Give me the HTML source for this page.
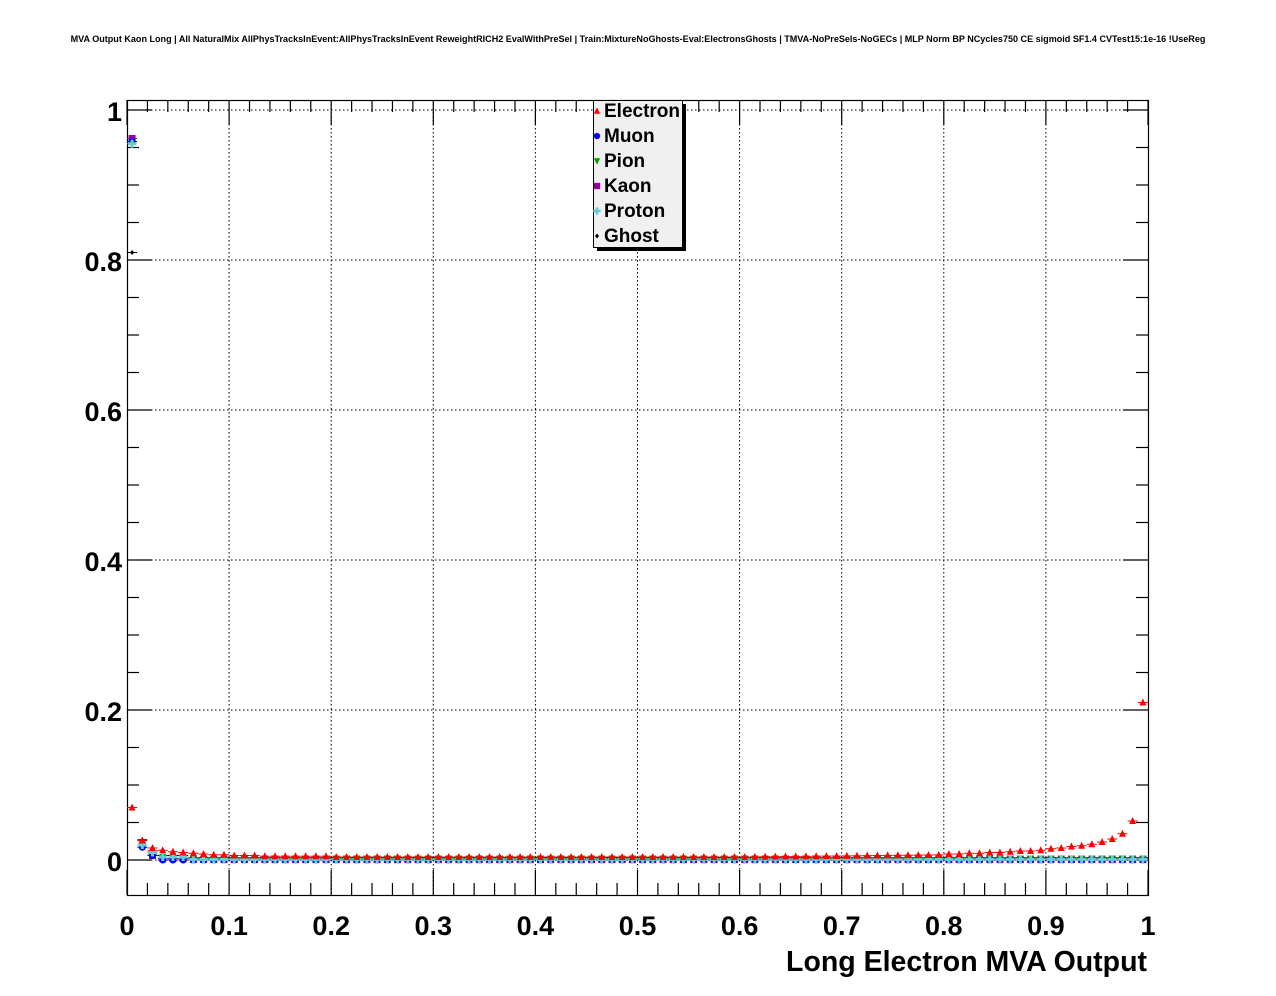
<!DOCTYPE html>
<html><head><meta charset="utf-8"><style>
html,body{margin:0;padding:0;background:#fff}
svg{display:block;font-family:"Liberation Sans",Arial,sans-serif;font-weight:bold}
</style></head><body>
<svg id="s" width="1276" height="996" viewBox="0 0 1276 996">
<rect width="1276" height="996" fill="#fff"/>
<text x="638" y="42" font-size="9.05" text-anchor="middle">MVA Output Kaon Long | All NaturalMix AllPhysTracksInEvent:AllPhysTracksInEvent ReweightRICH2 EvalWithPreSel | Train:MixtureNoGhosts-Eval:ElectronsGhosts | TMVA-NoPreSels-NoGECs | MLP Norm BP NCycles750 CE sigmoid SF1.4 CVTest15:1e-16 !UseReg</text>
<g id="grid" stroke="#000" stroke-width="1" stroke-dasharray="1.5,2.5" fill="none"></g>
<g id="ticks" stroke="#000" stroke-width="1.2" fill="none"></g>
<rect x="127.5" y="100.5" width="1021" height="795" fill="none" stroke="#000" stroke-width="1.2"/>
<g font-size="27" text-anchor="end">
<text x="122" y="121">1</text>
<text x="122" y="271">0.8</text>
<text x="122" y="421">0.6</text>
<text x="122" y="571">0.4</text>
<text x="122" y="721">0.2</text>
<text x="122" y="871">0</text>
</g>
<g font-size="27" text-anchor="middle" id="xl"></g>
<text x="1147" y="971" font-size="28.5" text-anchor="end">Long Electron MVA Output</text>
<g id="pts"></g>
<rect x="597" y="104" width="89" height="147" fill="#000"/>
<rect x="593.5" y="100.5" width="89" height="147" fill="#f0f0f0" stroke="#000"/>
<g font-size="19">
<text x="604" y="117">Electron</text>
<text x="604" y="142">Muon</text>
<text x="604" y="167">Pion</text>
<text x="604" y="192">Kaon</text>
<text x="604" y="217">Proton</text>
<text x="604" y="242">Ghost</text>
</g>
<g id="leg"></g>
</svg>
<script>
const NS="http://www.w3.org/2000/svg";
function el(p,t,a){const e=document.createElementNS(NS,t);for(const k in a)e.setAttribute(k,a[k]);p.appendChild(e);return e;}
const X0=127,X1=1148,Y0=860,Y1=110;
const X=v=>X0+(X1-X0)*v, Y=v=>Y0-(Y0-Y1)*v;
const g=document.getElementById('grid'),t=document.getElementById('ticks'),xl=document.getElementById('xl');
for(let i=1;i<10;i++){el(g,'line',{x1:X(i/10),x2:X(i/10),y1:100,y2:895});}
for(let i=0;i<=5;i++){el(g,'line',{x1:127,x2:1148,y1:Y(i*0.2),y2:Y(i*0.2)});}
for(let i=0;i<=50;i++){const x=X(i/50),L=i%5==0?25:12;el(t,'line',{x1:x,x2:x,y1:895,y2:895-L});el(t,'line',{x1:x,x2:x,y1:100,y2:100+L});}
for(let i=0;i<=20;i++){const v=i*0.05,y=Y(v);const L=i%4==0?25:12;el(t,'line',{x1:127,x2:127+L,y1:y,y2:y});el(t,'line',{x1:1148,x2:1148-L,y1:y,y2:y});}
const lab=['0','0.1','0.2','0.3','0.4','0.5','0.6','0.7','0.8','0.9','1'];
lab.forEach((s,i)=>{const e=el(xl,'text',{x:X(i/10),y:935});e.textContent=s;});
const p=document.getElementById('pts');
function mk(type,col,x,y,s,par){s=s||1;par=par||p;
 if(type=='tri')el(par,'polygon',{points:`${x},${y-4*s} ${x-3.5*s},${y+3*s} ${x+3.5*s},${y+3*s}`,fill:col});
 else if(type=='circ')el(par,'circle',{cx:x,cy:y,r:3.5*s,fill:col});
 else if(type=='tdown')el(par,'polygon',{points:`${x},${y+4*s} ${x-3.5*s},${y-3*s} ${x+3.5*s},${y-3*s}`,fill:col});
 else if(type=='sq')el(par,'rect',{x:x-3.5*s,y:y-3.5*s,width:7*s,height:7*s,fill:col});
 else if(type=='cross'){el(par,'rect',{x:x-4*s,y:y-1.5*s,width:8*s,height:3*s,fill:col});el(par,'rect',{x:x-1.5*s,y:y-4*s,width:3*s,height:8*s,fill:col});}
 else if(type=='dia')el(par,'polygon',{points:`${x},${y-2.5} ${x+2},${y} ${x},${y+2.5} ${x-2},${y}`,fill:col});
}
function ser(type,col,f){for(let i=0;i<100;i++){const v=f(i);const x=X((i+0.5)/100),y=Y(v);el(p,'line',{x1:x-5,x2:x+5,y1:y,y2:y,stroke:col,'stroke-width':1});mk(type,col,x,y);}}
ser('dia','#000',i=>i==0?0.81:i==1?0.027:i==2?0.012:i<6?0.006:0.003);
ser('sq','#990099',i=>i==0?0.962:i==1?0.02:i==2?0.006:i<6?0.002:0.0005);
ser('tdown','#009900',i=>i==0?0.958:i==1?0.02:i==2?0.008:i<6?0.004:0.002);
ser('circ','#0000ff',i=>i==0?0.958:i==1?0.017:i==2?0.006:0.0);
ser('cross','#66cccc',i=>i==0?0.955:i==1?0.02:i==2?0.01:i<6?0.004:0.0008);
const e=[0.07,0.026,0.016,0.013,0.011,0.01,0.009,0.008,0.007,0.007,0.006,0.006,0.006,0.005,0.005,0.005,0.005,0.005,0.005,0.005];
ser('tri','#ff0000',i=>{if(i<20)return e[i];if(i<60)return 0.004;if(i<80)return 0.004+(i-60)*0.00015;
 const r={80:0.008,81:0.008,82:0.009,83:0.009,84:0.01,85:0.01,86:0.011,87:0.012,88:0.012,89:0.013,90:0.015,91:0.016,92:0.018,93:0.019,94:0.021,95:0.024,96:0.028,97:0.035,98:0.052,99:0.21};return r[i];});
const lg=document.getElementById('leg');
const lt=[['tri','#ff0000'],['circ','#0000ff'],['tdown','#009900'],['sq','#990099'],['cross','#66cccc'],['dia','#000']];
lt.forEach((a,k)=>{mk(a[0],a[1],597,111+25*k,0.9,lg);});
</script>
</body></html>
